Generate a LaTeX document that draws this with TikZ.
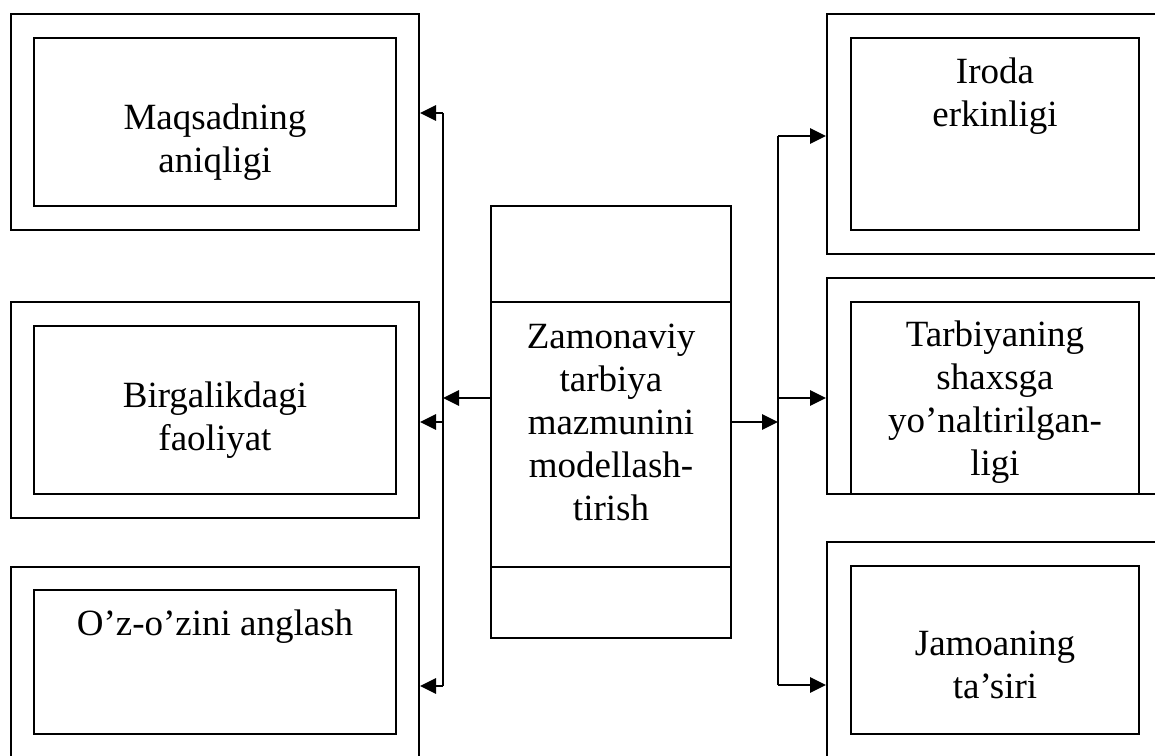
\documentclass[tikz,border=0pt]{standalone}
\usepackage{fontspec}
\setmainfont{Liberation Serif}
\usetikzlibrary{arrows.meta}

\begin{document}
\begin{tikzpicture}[x=0.5pt, y=-0.5pt, line width=1pt,
   box/.style={draw, rectangle, inner sep=0pt},
   lbl/.style={font=\fontsize{18.5}{21.5}\selectfont, align=center, inner sep=0pt},
   arr/.style={-{Triangle[length=8pt,width=7.5pt]}, line width=1.4pt}]
   \clip (0,0) rectangle (1155,755);

   % left column
   \node[box, minimum width=204pt, minimum height=108pt] (o1) at (215,122) {};
   \node[box, minimum width=181pt, minimum height=84pt]  (i1) at (215,122) {};
   \node[box, minimum width=204pt, minimum height=108pt] (o2) at (215,410) {};
   \node[box, minimum width=181pt, minimum height=84pt]  (i2) at (215,410) {};
   \node[box, minimum width=204pt, minimum height=108pt] (o3) at (215,675) {};
   \node[box, minimum width=181pt, minimum height=72pt]  (i3) at (215,662) {};
   \node[lbl, anchor=base] (t1) at (215,172) {Maqsadning\\aniqligi};
   \node[lbl, anchor=base] (t2) at (215,450) {Birgalikdagi\\faoliyat};
   \node[lbl, anchor=base] (t3) at (215,635) {O’z-o’zini anglash};

   % right column
   \node[box, minimum width=168pt, minimum height=120pt] (o4) at (995,134) {};
   \node[box, minimum width=144pt, minimum height=96pt]  (i4) at (995,134) {};
   \node[box, minimum width=168pt, minimum height=108pt] (o5) at (995,386) {};
   \node[box, minimum width=144pt, minimum height=96pt]  (i5) at (995,398) {};
   \node[box, minimum width=168pt, minimum height=120pt] (o6) at (995,662) {};
   \node[box, minimum width=144pt, minimum height=84pt]  (i6) at (995,650) {};
   \node[lbl, anchor=base] (t4) at (995,126) {Iroda\\erkinligi};
   \node[lbl, anchor=base] (t5) at (995,475) {Tarbiyaning\\shaxsga\\yo’naltirilgan-\\ligi};
   \node[lbl, anchor=base] (t6) at (995,698) {Jamoaning\\ta’siri};

   % centre
   \node[box, lbl, minimum width=120pt, minimum height=216pt] (model) at (611,422)
      {Zamonaviy\\tarbiya\\mazmunini\\modellash-\\tirish};
   \draw (model.west |- 0,302) -- (model.east |- 0,302);
   \draw (model.west |- 0,567) -- (model.east |- 0,567);

   % spines
   \coordinate (l1) at (443,113);
   \coordinate (lc) at (443,398);
   \coordinate (l2) at (443,422);
   \coordinate (l3) at (443,686);
   \coordinate (r1) at (778,136);
   \coordinate (r2) at (778,398);
   \coordinate (rc) at (778,422);
   \coordinate (r3) at (778,685);

   \draw[line width=1.4pt] (l1) -- (l3);
   \draw[line width=1.4pt] (r1) -- (r3);
   \draw[arr] (model.west |- lc) -- (lc);
   \draw[arr] (model.east |- rc) -- (rc);
   \draw[arr] (l1) -- (o1.east |- l1);
   \draw[arr] (l2) -- (o2.east |- l2);
   \draw[arr] (l3) -- (o3.east |- l3);
   \draw[arr] (r1) -- (o4.west |- r1);
   \draw[arr] (r2) -- (o5.west |- r2);
   \draw[arr] (r3) -- (o6.west |- r3);
\end{tikzpicture}
\end{document}
